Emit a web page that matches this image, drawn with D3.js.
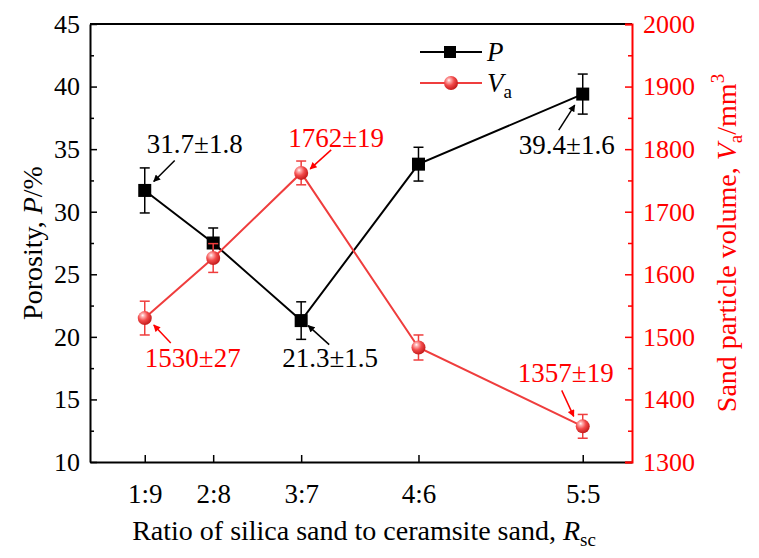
<!DOCTYPE html>
<html>
<head>
<meta charset="utf-8">
<script src="https://cdn.jsdelivr.net/npm/d3@7"></script>
<style>
  body { margin: 0; background: #fff; }
</style>
</head>
<body>
<svg id="chart" width="759" height="558"></svg>
<script>
// data
var categories = ["1:9", "2:8", "3:7", "4:6", "5:5"];
var ratios = [1/9, 2/8, 3/7, 4/6, 5/5];          // silica : ceramsite as number
var porosity = [31.7, 27.5, 21.3, 33.8, 39.4];
var porosityErr = [1.8, 1.2, 1.5, 1.35, 1.6];
var volume = [1530, 1626, 1762, 1483, 1357];
var volumeErr = [27, 23, 19, 20, 19];
var leftTicks = [10, 15, 20, 25, 30, 35, 40, 45];
var rightTicks = [1300, 1400, 1500, 1600, 1700, 1800, 1900, 2000];

// annotated points: index, label
var notesP = [{i: 0, text: "31.7±1.8"}, {i: 2, text: "21.3±1.5"}, {i: 4, text: "39.4±1.6"}];
var notesV = [{i: 0, text: "1530±27"}, {i: 2, text: "1762±19"}, {i: 4, text: "1357±19"}];

var RED = "#ff0000", LRED = "#ef3d3d";
var FONT = "Liberation Serif";

var svg = d3.select("#chart").attr("font-family", FONT),
    pLeft = 90, pRight = 632, pTop = 24, pBottom = 462;

var x = d3.scaleLinear().domain([0, 1.1]).range([pLeft, pRight]);
var yL = d3.scaleLinear().domain([10, 45]).range([pBottom, pTop]);
var yR = d3.scaleLinear().domain([1300, 2000]).range([pBottom, pTop]);

var defs = svg.append("defs");
var grad = defs.append("radialGradient").attr("id", "ball")
    .attr("cx", "38%").attr("cy", "35%").attr("r", "65%")
    .attr("fx", "35%").attr("fy", "30%");
grad.append("stop").attr("offset", "0%").attr("stop-color", "#ffffff");
grad.append("stop").attr("offset", "18%").attr("stop-color", "#ffb3b3");
grad.append("stop").attr("offset", "55%").attr("stop-color", "#f24a4a");
grad.append("stop").attr("offset", "100%").attr("stop-color", "#c41c1c");

function arrowMarker(id, col) {
  defs.append("marker").attr("id", id)
    .attr("viewBox", "0 0 10 10").attr("refX", 9).attr("refY", 5)
    .attr("markerWidth", 9).attr("markerHeight", 7)
    .attr("markerUnits", "userSpaceOnUse")
    .attr("orient", "auto")
    .append("path").attr("d", "M0,0 L10,5 L0,10 Z").attr("fill", col);
}
arrowMarker("arrK", "#000");
arrowMarker("arrR", RED);

// ---- axes ----
var minorL = d3.range(12.5, 45, 5);
var minorR = d3.range(1350, 2000, 100);

svg.append("g").attr("transform", "translate(" + pLeft + ",0)")
  .call(d3.axisLeft(yL).tickValues(minorL).tickSize(-4).tickSizeOuter(0).tickFormat(""))
  .call(g => g.select(".domain").remove())
  .selectAll("line").attr("stroke", "#000").attr("stroke-width", 1.5);

svg.append("g").attr("transform", "translate(" + pRight + ",0)")
  .call(d3.axisRight(yR).tickValues(minorR).tickSize(-4).tickSizeOuter(0).tickFormat(""))
  .call(g => g.select(".domain").remove())
  .selectAll("line").attr("stroke", RED).attr("stroke-width", 1.5);

// top frame line
svg.append("line").attr("x1", pLeft).attr("x2", pRight).attr("y1", pTop).attr("y2", pTop)
  .attr("stroke", "#000").attr("stroke-width", 2);

var gx = svg.append("g").attr("transform", "translate(0," + pBottom + ")")
  .call(d3.axisBottom(x).tickValues(ratios)
    .tickFormat((d, i) => categories[i]).tickSize(-7).tickSizeOuter(0).tickPadding(22));
gx.attr("font-family", FONT).attr("font-size", 27);
gx.select(".domain").attr("stroke", "#000").attr("stroke-width", 2);
gx.selectAll("line").attr("stroke", "#000").attr("stroke-width", 1.5);
gx.selectAll("text").attr("fill", "#000");

var gl = svg.append("g").attr("transform", "translate(" + pLeft + ",0)")
  .call(d3.axisLeft(yL).tickValues(leftTicks).tickSize(-7).tickSizeOuter(0).tickPadding(10));
gl.attr("font-family", FONT).attr("font-size", 26);
gl.select(".domain").attr("stroke", "#000").attr("stroke-width", 2);
gl.selectAll("line").attr("stroke", "#000").attr("stroke-width", 1.5);
gl.selectAll("text").attr("fill", "#000");

var gr = svg.append("g").attr("transform", "translate(" + pRight + ",0)")
  .call(d3.axisRight(yR).tickValues(rightTicks).tickFormat(d3.format("d"))
    .tickSize(-7).tickSizeOuter(-7).tickPadding(11));
gr.attr("font-family", FONT).attr("font-size", 26);
gr.select(".domain").attr("stroke", RED).attr("stroke-width", 2);
gr.selectAll("line").attr("stroke", RED).attr("stroke-width", 1.5);
gr.selectAll("text").attr("fill", RED);

// ---- axis titles ----
var tl = svg.append("text").attr("transform", "translate(42,243) rotate(-90)")
  .attr("text-anchor", "middle").attr("font-size", 28);
tl.append("tspan").text("Porosity, ");
tl.append("tspan").attr("font-style", "italic").text("P");
tl.append("tspan").text("/%");

var tr = svg.append("text").attr("transform", "translate(736,243) rotate(-90)")
  .attr("text-anchor", "middle").attr("font-size", 28).attr("fill", RED);
tr.append("tspan").text("Sand particle volume, ");
tr.append("tspan").attr("font-style", "italic").text("V");
tr.append("tspan").attr("font-size", 19).attr("dy", 6).text("a");
tr.append("tspan").attr("dy", -6).text("/mm");
tr.append("tspan").attr("font-size", 19).attr("dy", -12).text("3");

var tb = svg.append("text").attr("x", 364).attr("y", 540)
  .attr("text-anchor", "middle").attr("font-size", 28);
tb.append("tspan").text("Ratio of silica sand to ceramsite sand, ");
tb.append("tspan").attr("font-style", "italic").text("R");
tb.append("tspan").attr("font-size", 19).attr("dy", 6).text("sc");

// ---- series P ----
var lineP = d3.line().x((d, i) => x(ratios[i])).y(d => yL(d));
svg.append("path").datum(porosity).attr("d", lineP)
  .attr("fill", "none").attr("stroke", "#000").attr("stroke-width", 2);

var eP = svg.append("g").attr("stroke", "#000").attr("stroke-width", 1.5);
porosity.forEach(function(v, i) {
  var cx = x(ratios[i]), y1 = yL(v + porosityErr[i]), y2 = yL(v - porosityErr[i]);
  eP.append("line").attr("x1", cx).attr("x2", cx).attr("y1", y1).attr("y2", y2);
  eP.append("line").attr("x1", cx - 5).attr("x2", cx + 5).attr("y1", y1).attr("y2", y1);
  eP.append("line").attr("x1", cx - 5).attr("x2", cx + 5).attr("y1", y2).attr("y2", y2);
});
svg.append("g").selectAll("rect").data(porosity).enter().append("rect")
  .attr("x", (d, i) => x(ratios[i]) - 6.5).attr("y", d => yL(d) - 6.5)
  .attr("width", 13).attr("height", 13).attr("fill", "#000");

// ---- series Va ----
var lineV = d3.line().x((d, i) => x(ratios[i])).y(d => yR(d));
svg.append("path").datum(volume).attr("d", lineV)
  .attr("fill", "none").attr("stroke", LRED).attr("stroke-width", 2);

var eV = svg.append("g").attr("stroke", LRED).attr("stroke-width", 1.5);
volume.forEach(function(v, i) {
  var cx = x(ratios[i]), y1 = yR(v + volumeErr[i]), y2 = yR(v - volumeErr[i]);
  eV.append("line").attr("x1", cx).attr("x2", cx).attr("y1", y1).attr("y2", y2);
  eV.append("line").attr("x1", cx - 5).attr("x2", cx + 5).attr("y1", y1).attr("y2", y1);
  eV.append("line").attr("x1", cx - 5).attr("x2", cx + 5).attr("y1", y2).attr("y2", y2);
});
svg.append("g").selectAll("circle").data(volume).enter().append("circle")
  .attr("cx", (d, i) => x(ratios[i])).attr("cy", d => yR(d))
  .attr("r", 7).attr("fill", "url(#ball)");

// ---- annotations ----
// label offset and arrow start/end offsets relative to the point
var layoutP = [
  {lx: 50, ly: -37, ax: 30, ay: -30, bx: 9, by: -9},
  {lx: 29, ly: 46, ax: 28, ay: 24, bx: 7, by: 5},
  {lx: -16, ly: 60, ax: -24, ay: 36, bx: -8, by: 11}
];
var layoutV = [
  {lx: 48, ly: 49, ax: 26, ay: 25, bx: 9, by: 7},
  {lx: 35, ly: -26, ax: 30, ay: -23, bx: 9, by: -4},
  {lx: -17, ly: -44, ax: -21, ay: -36, bx: -9, by: -10}
];

function annotate(notes, layout, yScale, values, col, marker) {
  notes.forEach(function(n, k) {
    var px = x(ratios[n.i]), py = yScale(values[n.i]), L = layout[k];
    svg.append("text").attr("x", px + L.lx).attr("y", py + L.ly)
      .attr("text-anchor", "middle").attr("font-size", 27).attr("fill", col).text(n.text);
    svg.append("line").attr("x1", px + L.ax).attr("y1", py + L.ay)
      .attr("x2", px + L.bx).attr("y2", py + L.by)
      .attr("stroke", col).attr("stroke-width", 1.5)
      .attr("marker-end", "url(#" + marker + ")");
  });
}
annotate(notesP, layoutP, yL, porosity, "#000", "arrK");
annotate(notesV, layoutV, yR, volume, RED, "arrR");

// ---- legend ----
var lg = svg.append("g");
lg.append("line").attr("x1", 420).attr("x2", 482).attr("y1", 52).attr("y2", 52)
  .attr("stroke", "#000").attr("stroke-width", 2);
lg.append("rect").attr("x", 444).attr("y", 46).attr("width", 12).attr("height", 12).attr("fill", "#000");
lg.append("text").attr("x", 487).attr("y", 61).attr("font-size", 27)
  .attr("font-style", "italic").text("P");
lg.append("line").attr("x1", 420).attr("x2", 482).attr("y1", 83).attr("y2", 83)
  .attr("stroke", LRED).attr("stroke-width", 2);
lg.append("circle").attr("cx", 451).attr("cy", 83).attr("r", 7).attr("fill", "url(#ball)");
var lv = lg.append("text").attr("x", 487).attr("y", 92).attr("font-size", 27);
lv.append("tspan").attr("font-style", "italic").text("V");
lv.append("tspan").attr("font-size", 19).attr("dy", 6).text("a");
</script>
</body>
</html>
